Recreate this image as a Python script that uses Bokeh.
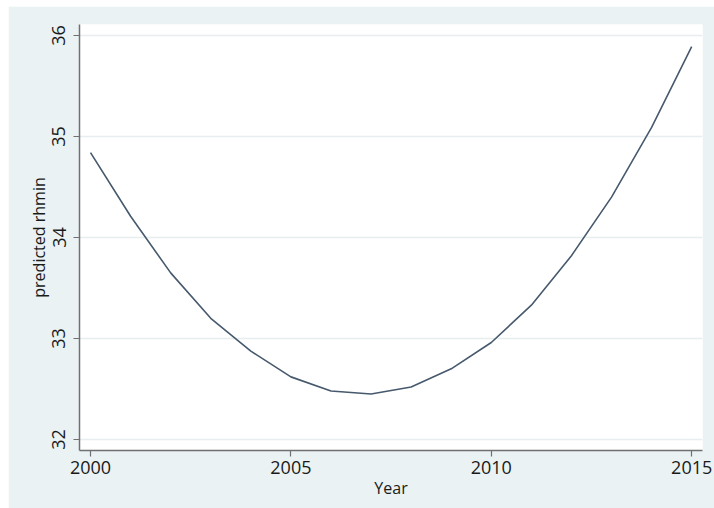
from bokeh.plotting import figure
from bokeh.models import FixedTicker, Range1d
from bokeh.embed import file_html
from bokeh.resources import INLINE

years = [2000, 2001, 2002, 2003, 2004, 2005, 2006, 2007, 2008, 2009, 2010, 2011, 2012, 2013, 2014, 2015]
predicted_rhmin = [34.84, 34.21, 33.65, 33.20, 32.875, 32.62, 32.48, 32.45, 32.52, 32.70, 32.96, 33.33, 33.82, 34.40, 35.09, 35.89]
x_ticks = [2000, 2005, 2010, 2015]
y_ticks = [32, 33, 34, 35, 36]

FONT = "Open Sans"
BG = "#EAF2F3"

p = figure(width=706, height=502, output_backend="svg", toolbar_location=None,
           x_range=Range1d(1999.725, 2015.27), y_range=Range1d(31.891, 36.109),
           min_border_left=71, min_border_right=12, min_border_top=18, min_border_bottom=58)
p.margin = (6, 0, 0, 8)
p.border_fill_color = BG
p.background_fill_color = "white"
p.outline_line_color = None

p.line(years, predicted_rhmin, line_color="#46596d", line_width=1.6)

p.xaxis.ticker = FixedTicker(ticks=x_ticks)
p.yaxis.ticker = FixedTicker(ticks=y_ticks)
p.xgrid.visible = False
p.ygrid.grid_line_color = "#E8EEF0"
p.ygrid.grid_line_width = 1.5

for ax in (p.xaxis, p.yaxis):
    ax.axis_line_color = "#707070"
    ax.axis_line_width = 1.5
    ax.major_tick_line_color = "#707070"
    ax.major_tick_line_width = 1.2
    ax.major_tick_in = 0
    ax.major_tick_out = 6
    ax.minor_tick_line_color = None
    ax.major_label_text_font = FONT
    ax.major_label_text_font_size = "18px"
    ax.major_label_text_color = "#1a1a1a"
    ax.axis_label_text_font = FONT
    ax.axis_label_text_font_size = "16px"
    ax.axis_label_text_font_style = "normal"
    ax.axis_label_text_color = "#1a1a1a"

p.xaxis.axis_label = "Year"
p.yaxis.axis_label = "predicted rhmin"
p.yaxis.major_label_orientation = "vertical"
p.xaxis.major_label_standoff = 4
p.xaxis.axis_label_standoff = 0
p.yaxis.major_label_standoff = 8
p.yaxis.axis_label_standoff = 0

open("out.html", "w").write(file_html(p, INLINE))
